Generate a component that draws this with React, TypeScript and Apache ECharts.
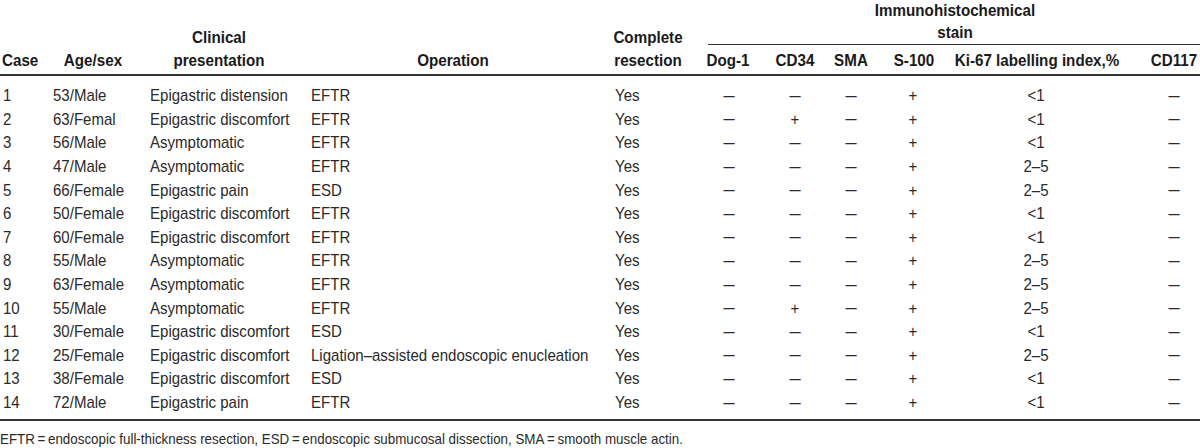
import React, { useEffect, useRef } from "react";
import * as echarts from "echarts";

const cases = ["1", "2", "3", "4", "5", "6", "7", "8", "9", "10", "11", "12", "13", "14"];
const ageSex = ["53/Male", "63/Femal", "56/Male", "47/Male", "66/Female", "50/Female", "60/Female", "55/Male", "63/Female", "55/Male", "30/Female", "25/Female", "38/Female", "72/Male"];
const presentation = ["Epigastric distension", "Epigastric discomfort", "Asymptomatic", "Asymptomatic", "Epigastric pain", "Epigastric discomfort", "Epigastric discomfort", "Asymptomatic", "Asymptomatic", "Asymptomatic", "Epigastric discomfort", "Epigastric discomfort", "Epigastric discomfort", "Epigastric pain"];
const operation = ["EFTR", "EFTR", "EFTR", "EFTR", "ESD", "EFTR", "EFTR", "EFTR", "EFTR", "EFTR", "ESD", "Ligation\u2013assisted endoscopic enucleation", "ESD", "EFTR"];
const resection = ["Yes", "Yes", "Yes", "Yes", "Yes", "Yes", "Yes", "Yes", "Yes", "Yes", "Yes", "Yes", "Yes", "Yes"];
const dog1 = ["\u2013", "\u2013", "\u2013", "\u2013", "\u2013", "\u2013", "\u2013", "\u2013", "\u2013", "\u2013", "\u2013", "\u2013", "\u2013", "\u2013"];
const cd34 = ["\u2013", "+", "\u2013", "\u2013", "\u2013", "\u2013", "\u2013", "\u2013", "\u2013", "+", "\u2013", "\u2013", "\u2013", "\u2013"];
const sma = ["\u2013", "\u2013", "\u2013", "\u2013", "\u2013", "\u2013", "\u2013", "\u2013", "\u2013", "\u2013", "\u2013", "\u2013", "\u2013", "\u2013"];
const s100 = ["+", "+", "+", "+", "+", "+", "+", "+", "+", "+", "+", "+", "+", "+"];
const ki67 = ["<1", "<1", "<1", "2\u20135", "2\u20135", "<1", "<1", "2\u20135", "2\u20135", "2\u20135", "<1", "2\u20135", "<1", "<1"];
const cd117 = ["\u2013", "\u2013", "\u2013", "\u2013", "\u2013", "\u2013", "\u2013", "\u2013", "\u2013", "\u2013", "\u2013", "\u2013", "\u2013", "\u2013"];

const groupHeader = ["Immunohistochemical", "stain"];
const footnote = "EFTR\u2009=\u2009endoscopic full-thickness resection, ESD\u2009=\u2009endoscopic submucosal dissection, SMA\u2009=\u2009smooth muscle actin.";

const FONT = "'Liberation Sans', Arial, Helvetica, sans-serif";
const COLOR = "#222";

type Col = { header: string[]; values: string[]; x: number; align: "left" | "center"; hx: number; halign: "left" | "center"; dash?: boolean };

const columns: Col[] = [
  { header: ["Case"], values: cases, x: 3, align: "left", hx: 2, halign: "left" },
  { header: ["Age/sex"], values: ageSex, x: 53, align: "left", hx: 93, halign: "center" },
  { header: ["Clinical", "presentation"], values: presentation, x: 150, align: "left", hx: 219, halign: "center" },
  { header: ["Operation"], values: operation, x: 311, align: "left", hx: 453, halign: "center" },
  { header: ["Complete", "resection"], values: resection, x: 615, align: "left", hx: 648, halign: "center" },
  { header: ["Dog-1"], values: dog1, x: 729, align: "center", hx: 728, halign: "center", dash: true },
  { header: ["CD34"], values: cd34, x: 795, align: "center", hx: 795, halign: "center", dash: true },
  { header: ["SMA"], values: sma, x: 851, align: "center", hx: 851, halign: "center", dash: true },
  { header: ["S-100"], values: s100, x: 913, align: "center", hx: 914, halign: "center", dash: true },
  { header: ["Ki-67 labelling index,%"], values: ki67, x: 1036, align: "center", hx: 1037, halign: "center" },
  { header: ["CD117"], values: cd117, x: 1174, align: "center", hx: 1174, halign: "center", dash: true },
];

const ROW0 = 95.5;
const ROWH = 23.6;

function txt(x: number, y: number, text: string, align: string, bold: boolean, size: number, sx: number, fill = COLOR) {
  return {
    type: "text",
    x,
    y,
    scaleX: sx,
    silent: true,
    style: {
      text,
      x: 0,
      y: 0,
      textAlign: align,
      textVerticalAlign: "middle",
      fill,
      fontFamily: FONT,
      fontSize: size,
      fontWeight: bold ? "bold" : "normal",
    },
  };
}

export default function App() {
  const ref = useRef<HTMLDivElement>(null);
  useEffect(() => {
    document.body.style.margin = "0";
    const chart = echarts.init(ref.current!, undefined, { renderer: "svg" });
    const els: any[] = [];
    columns.forEach((c) => {
      const ys = c.header.length === 2 ? [37, 60] : [60];
      c.header.forEach((h, i) => els.push(txt(c.hx, ys[i], h, c.halign, true, 16, 0.95, "#1a1a1a")));
      c.values.forEach((v, r) => {
        const y = ROW0 + r * ROWH;
        const isDash = v === "\u2013" && c.dash;
        els.push(txt(c.x, y, v, c.align, false, 16, isDash ? 1.25 : 0.94, "#2a2a2a"));
      });
    });
    els.push(txt(955, 10, groupHeader[0], "center", true, 16, 0.95, "#1a1a1a"));
    els.push(txt(955, 32, groupHeader[1], "center", true, 16, 0.95, "#1a1a1a"));
    els.push({ type: "line", silent: true, shape: { x1: 708, y1: 44.5, x2: 1200, y2: 44.5 }, style: { stroke: "#333", lineWidth: 1 } });
    els.push({ type: "line", silent: true, shape: { x1: 0, y1: 75, x2: 1200, y2: 75 }, style: { stroke: "#333", lineWidth: 2 } });
    els.push({ type: "line", silent: true, shape: { x1: 0, y1: 420, x2: 1200, y2: 420 }, style: { stroke: "#333", lineWidth: 2 } });
    els.push(txt(0, 439, footnote, "left", false, 14, 0.955, "#2a2a2a"));
    chart.setOption({ animation: false, graphic: { elements: els } });
    return () => chart.dispose();
  }, []);
  return <div ref={ref} style={{ width: 1200, height: 448, background: "#fff" }} />;
}
